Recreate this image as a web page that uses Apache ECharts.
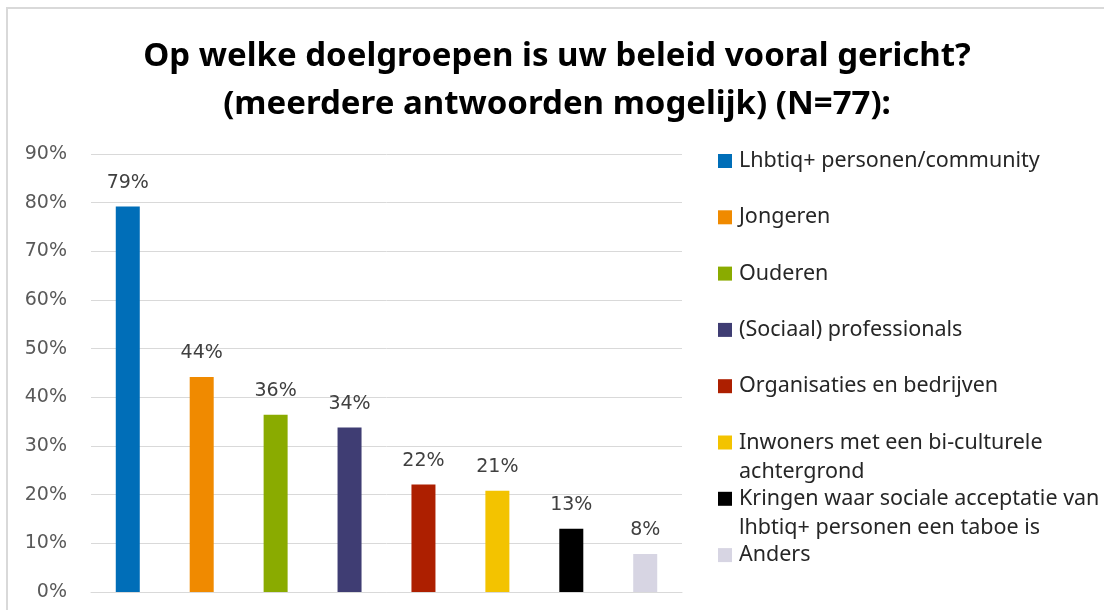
<!DOCTYPE html>
<html>
<head>
<meta charset="utf-8">
<script src="https://cdn.jsdelivr.net/npm/echarts@6/dist/echarts.min.js"></script>
<style>
  html, body { margin: 0; padding: 0; background: #fff; }
  #frame {
    position: absolute; left: 6px; top: 7px; width: 1098px; height: 603px;
    border-left: 2px solid #d9d9d9; border-top: 2px solid #d9d9d9;
  }
  #echart { position: absolute; left: 0; top: 0; width: 1104px; height: 610px; }
</style>
</head>
<body>
<div id="frame"></div>
<div id="echart"></div>
<script>
// doelgroepen (legend order), '\n' marks where the legend text wraps
var groups = [
  "Lhbtiq+ personen/community",
  "Jongeren",
  "Ouderen",
  "(Sociaal) professionals",
  "Organisaties en bedrijven",
  "Inwoners met een bi-culturele\nachtergrond",
  "Kringen waar sociale acceptatie van\nlhbtiq+ personen een taboe is",
  "Anders"
];
// percentage van de respondenten (N=77)
var shares = [79.2, 44.2, 36.4, 33.8, 22.1, 20.8, 13.0, 7.8];
var colors = ["#006eb8", "#f08a00", "#8aab00", "#3f3d73", "#ad1f00", "#f3c300", "#000000", "#d7d5e3"];

var legendFont = "Noto Sans";
var numFont = "DejaVu Sans";

var series = groups.map(function (g, i) {
  return {
    name: g,
    type: "bar",
    barWidth: 24,
    barGap: "208%",
    itemStyle: { color: colors[i] },
    label: {
      show: true,
      position: "top",
      distance: 14,
      color: "#404040",
      fontFamily: numFont,
      fontSize: 19,
      formatter: function (p) { return Math.round(p.value) + "%"; }
    },
    data: [shares[i]]
  };
});

// second lines of the wrapped legend entries
var extraLines = [];
groups.forEach(function (g, i) {
  var parts = g.split("\n");
  if (parts.length > 1) {
    extraLines.push({
      type: "text",
      x: 739,
      y: 161 + i * 56.3 + 29.5,
      style: {
        text: parts[1],
        font: "21.5px '" + legendFont + "'",
        fill: "#262626",
        verticalAlign: "middle"
      }
    });
  }
});

var myChart = echarts.init(document.getElementById("echart"));
myChart.setOption({
  animation: false,
  title: {
    text: "Op welke doelgroepen is uw beleid vooral gericht?\n(meerdere antwoorden mogelijk) (N=77):",
    left: 557,
    top: 33,
    padding: 0,
    textAlign: "center",
    textStyle: {
      fontFamily: legendFont,
      fontWeight: "bold",
      fontSize: 33,
      lineHeight: 48,
      color: "#000"
    }
  },
  legend: {
    orient: "vertical",
    left: 718,
    top: 147,
    padding: 0,
    itemWidth: 14,
    itemHeight: 14,
    itemGap: 28.3,
    icon: "rect",
    data: groups,
    formatter: function (name) { return name.split("\n")[0]; },
    textStyle: {
      fontFamily: legendFont,
      fontSize: 21.5,
      lineHeight: 28,
      padding: [0, 0, 0, 2],
      color: "#262626"
    }
  },
  grid: { left: 91, right: 422, top: 154, bottom: 18 },
  xAxis: {
    type: "category",
    data: [""],
    axisTick: { show: false },
    axisLabel: { show: false },
    axisLine: { lineStyle: { color: "#d9d9d9", width: 1 } }
  },
  yAxis: {
    type: "value",
    min: 0,
    max: 90,
    interval: 10,
    axisLine: { show: false },
    axisTick: { show: false },
    axisLabel: {
      formatter: "{value}%",
      color: "#595959",
      fontFamily: numFont,
      fontSize: 19,
      margin: 24
    },
    splitLine: { lineStyle: { color: "#d9d9d9", width: 1 } }
  },
  graphic: extraLines,
  series: series
});
</script>
</body>
</html>
